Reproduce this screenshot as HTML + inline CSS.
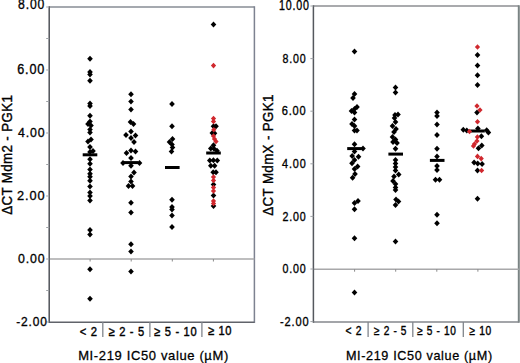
<!DOCTYPE html>
<html><head><meta charset="utf-8"><style>
html,body{margin:0;padding:0;background:#fff;}
svg{display:block;}
text{font-family:"Liberation Sans",sans-serif;fill:#000;}
</style></head><body>
<svg width="520" height="363" viewBox="0 0 520 363">
<rect width="520" height="363" fill="#fff"/>
<line x1="49.2" y1="7" x2="254.4" y2="7" stroke="#878d95" stroke-width="1.5"/><line x1="254.4" y1="6.3" x2="254.4" y2="322.9" stroke="#7d8290" stroke-width="1.5"/><line x1="49.2" y1="322.2" x2="254.4" y2="322.2" stroke="#60636a" stroke-width="1.5"/><line x1="49.2" y1="259" x2="254.4" y2="259" stroke="#a8a8aa" stroke-width="1.5"/><line x1="49.2" y1="6.3" x2="49.2" y2="322.9" stroke="#505359" stroke-width="1.5"/><line x1="46.2" y1="7.0" x2="49.2" y2="7.0" stroke="#9ea2a6" stroke-width="1"/><line x1="46.2" y1="38.5" x2="49.2" y2="38.5" stroke="#9ea2a6" stroke-width="1"/><line x1="46.2" y1="70.0" x2="49.2" y2="70.0" stroke="#9ea2a6" stroke-width="1"/><line x1="46.2" y1="101.5" x2="49.2" y2="101.5" stroke="#9ea2a6" stroke-width="1"/><line x1="46.2" y1="133.0" x2="49.2" y2="133.0" stroke="#9ea2a6" stroke-width="1"/><line x1="46.2" y1="164.5" x2="49.2" y2="164.5" stroke="#9ea2a6" stroke-width="1"/><line x1="46.2" y1="196.0" x2="49.2" y2="196.0" stroke="#9ea2a6" stroke-width="1"/><line x1="46.2" y1="227.5" x2="49.2" y2="227.5" stroke="#9ea2a6" stroke-width="1"/><line x1="46.2" y1="259.0" x2="49.2" y2="259.0" stroke="#9ea2a6" stroke-width="1"/><line x1="46.2" y1="290.5" x2="49.2" y2="290.5" stroke="#9ea2a6" stroke-width="1"/><line x1="46.2" y1="322.0" x2="49.2" y2="322.0" stroke="#9ea2a6" stroke-width="1"/><line x1="313.4" y1="5.9" x2="518.8" y2="5.9" stroke="#8c8e92" stroke-width="1.5"/><line x1="518.8" y1="5.2" x2="518.8" y2="322.7" stroke="#7a8383" stroke-width="2"/><line x1="313.4" y1="322" x2="518.8" y2="322" stroke="#85878d" stroke-width="1.5"/><line x1="313.4" y1="269.2" x2="518.8" y2="269.2" stroke="#a8a8aa" stroke-width="1.5"/><line x1="313.4" y1="5.2" x2="313.4" y2="322.7" stroke="#55585e" stroke-width="1.5"/><line x1="310.4" y1="6.0" x2="313.4" y2="6.0" stroke="#9ea2a6" stroke-width="1"/><line x1="310.4" y1="58.6" x2="313.4" y2="58.6" stroke="#9ea2a6" stroke-width="1"/><line x1="310.4" y1="111.2" x2="313.4" y2="111.2" stroke="#9ea2a6" stroke-width="1"/><line x1="310.4" y1="163.8" x2="313.4" y2="163.8" stroke="#9ea2a6" stroke-width="1"/><line x1="310.4" y1="216.4" x2="313.4" y2="216.4" stroke="#9ea2a6" stroke-width="1"/><line x1="310.4" y1="269.0" x2="313.4" y2="269.0" stroke="#9ea2a6" stroke-width="1"/><line x1="310.4" y1="321.6" x2="313.4" y2="321.6" stroke="#9ea2a6" stroke-width="1"/><line x1="90.1" y1="259" x2="90.1" y2="261.5" stroke="#8a8a8a" stroke-width="1"/><line x1="131.2" y1="259" x2="131.2" y2="261.5" stroke="#8a8a8a" stroke-width="1"/><line x1="172.3" y1="259" x2="172.3" y2="261.5" stroke="#8a8a8a" stroke-width="1"/><line x1="213.4" y1="259" x2="213.4" y2="261.5" stroke="#8a8a8a" stroke-width="1"/><line x1="354.6" y1="269.2" x2="354.6" y2="271.7" stroke="#8a8a8a" stroke-width="1"/><line x1="395.7" y1="269.2" x2="395.7" y2="271.7" stroke="#8a8a8a" stroke-width="1"/><line x1="436.8" y1="269.2" x2="436.8" y2="271.7" stroke="#8a8a8a" stroke-width="1"/><line x1="477.9" y1="269.2" x2="477.9" y2="271.7" stroke="#8a8a8a" stroke-width="1"/><line x1="102.8" y1="322" x2="102.8" y2="337" stroke="#80858c" stroke-width="1.3"/><line x1="149.9" y1="322" x2="149.9" y2="337" stroke="#80858c" stroke-width="1.3"/><line x1="201.9" y1="322" x2="201.9" y2="337" stroke="#80858c" stroke-width="1.3"/><line x1="368.1" y1="322" x2="368.1" y2="337" stroke="#80858c" stroke-width="1.3"/><line x1="412.8" y1="322" x2="412.8" y2="337" stroke="#80858c" stroke-width="1.3"/><line x1="463.3" y1="322" x2="463.3" y2="337" stroke="#80858c" stroke-width="1.3"/>
<path d="M90.0 55.7L92.8 58.7L90.0 61.7L87.2 58.7Z" fill="#000"/><path d="M90.0 69.0L92.8 72.0L90.0 75.0L87.2 72.0Z" fill="#000"/><path d="M90.0 71.5L92.8 74.5L90.0 77.5L87.2 74.5Z" fill="#000"/><path d="M90.0 77.7L92.8 80.7L90.0 83.7L87.2 80.7Z" fill="#000"/><path d="M90.0 100.5L92.8 103.5L90.0 106.5L87.2 103.5Z" fill="#000"/><path d="M90.0 103.0L92.8 106.0L90.0 109.0L87.2 106.0Z" fill="#000"/><path d="M90.0 112.7L92.8 115.7L90.0 118.7L87.2 115.7Z" fill="#000"/><path d="M90.0 118.5L92.8 121.5L90.0 124.5L87.2 121.5Z" fill="#000"/><path d="M88.0 121.0L90.8 124.0L88.0 127.0L85.2 124.0Z" fill="#000"/><path d="M91.0 122.5L93.8 125.5L91.0 128.5L88.2 125.5Z" fill="#000"/><path d="M90.0 126.5L92.8 129.5L90.0 132.5L87.2 129.5Z" fill="#000"/><path d="M90.0 129.5L92.8 132.5L90.0 135.5L87.2 132.5Z" fill="#000"/><path d="M91.0 136.5L93.8 139.5L91.0 142.5L88.2 139.5Z" fill="#000"/><path d="M88.0 138.5L90.8 141.5L88.0 144.5L85.2 141.5Z" fill="#000"/><path d="M90.0 144.0L92.8 147.0L90.0 150.0L87.2 147.0Z" fill="#000"/><path d="M93.0 148.0L95.8 151.0L93.0 154.0L90.2 151.0Z" fill="#000"/><path d="M90.0 149.0L92.8 152.0L90.0 155.0L87.2 152.0Z" fill="#000"/><path d="M90.0 156.2L92.8 159.2L90.0 162.2L87.2 159.2Z" fill="#000"/><path d="M90.0 160.7L92.8 163.7L90.0 166.7L87.2 163.7Z" fill="#000"/><path d="M90.0 166.5L92.8 169.5L90.0 172.5L87.2 169.5Z" fill="#000"/><path d="M90.0 170.8L92.8 173.8L90.0 176.8L87.2 173.8Z" fill="#000"/><path d="M90.0 173.8L92.8 176.8L90.0 179.8L87.2 176.8Z" fill="#000"/><path d="M90.0 177.8L92.8 180.8L90.0 183.8L87.2 180.8Z" fill="#000"/><path d="M90.0 183.6L92.8 186.6L90.0 189.6L87.2 186.6Z" fill="#000"/><path d="M90.0 189.4L92.8 192.4L90.0 195.4L87.2 192.4Z" fill="#000"/><path d="M90.0 193.1L92.8 196.1L90.0 199.1L87.2 196.1Z" fill="#000"/><path d="M90.0 197.6L92.8 200.6L90.0 203.6L87.2 200.6Z" fill="#000"/><path d="M90.0 227.0L92.8 230.0L90.0 233.0L87.2 230.0Z" fill="#000"/><path d="M90.0 231.5L92.8 234.5L90.0 237.5L87.2 234.5Z" fill="#000"/><path d="M90.0 266.3L92.8 269.3L90.0 272.3L87.2 269.3Z" fill="#000"/><path d="M90.0 295.8L92.8 298.8L90.0 301.8L87.2 298.8Z" fill="#000"/><path d="M131.0 91.2L133.8 94.2L131.0 97.2L128.2 94.2Z" fill="#000"/><path d="M131.0 98.5L133.8 101.5L131.0 104.5L128.2 101.5Z" fill="#000"/><path d="M131.0 106.4L133.8 109.4L131.0 112.4L128.2 109.4Z" fill="#000"/><path d="M130.5 119.0L133.3 122.0L130.5 125.0L127.7 122.0Z" fill="#000"/><path d="M133.5 121.0L136.3 124.0L133.5 127.0L130.7 124.0Z" fill="#000"/><path d="M131.0 128.5L133.8 131.5L131.0 134.5L128.2 131.5Z" fill="#000"/><path d="M126.0 132.0L128.8 135.0L126.0 138.0L123.2 135.0Z" fill="#000"/><path d="M135.5 132.5L138.3 135.5L135.5 138.5L132.7 135.5Z" fill="#000"/><path d="M131.0 135.0L133.8 138.0L131.0 141.0L128.2 138.0Z" fill="#000"/><path d="M134.0 139.0L136.8 142.0L134.0 145.0L131.2 142.0Z" fill="#000"/><path d="M126.5 150.0L129.3 153.0L126.5 156.0L123.7 153.0Z" fill="#000"/><path d="M131.0 147.5L133.8 150.5L131.0 153.5L128.2 150.5Z" fill="#000"/><path d="M135.5 148.5L138.3 151.5L135.5 154.5L132.7 151.5Z" fill="#000"/><path d="M131.0 155.0L133.8 158.0L131.0 161.0L128.2 158.0Z" fill="#000"/><path d="M123.0 160.0L125.8 163.0L123.0 166.0L120.2 163.0Z" fill="#000"/><path d="M139.5 160.0L142.3 163.0L139.5 166.0L136.7 163.0Z" fill="#000"/><path d="M131.0 162.8L133.8 165.8L131.0 168.8L128.2 165.8Z" fill="#000"/><path d="M134.0 169.5L136.8 172.5L134.0 175.5L131.2 172.5Z" fill="#000"/><path d="M131.0 173.5L133.8 176.5L131.0 179.5L128.2 176.5Z" fill="#000"/><path d="M131.0 178.5L133.8 181.5L131.0 184.5L128.2 181.5Z" fill="#000"/><path d="M128.5 183.0L131.3 186.0L128.5 189.0L125.7 186.0Z" fill="#000"/><path d="M132.5 183.0L135.3 186.0L132.5 189.0L129.7 186.0Z" fill="#000"/><path d="M131.0 199.8L133.8 202.8L131.0 205.8L128.2 202.8Z" fill="#000"/><path d="M131.0 209.4L133.8 212.4L131.0 215.4L128.2 212.4Z" fill="#000"/><path d="M131.0 241.2L133.8 244.2L131.0 247.2L128.2 244.2Z" fill="#000"/><path d="M131.0 248.4L133.8 251.4L131.0 254.4L128.2 251.4Z" fill="#000"/><path d="M131.0 268.5L133.8 271.5L131.0 274.5L128.2 271.5Z" fill="#000"/><path d="M172.0 101.1L174.8 104.1L172.0 107.1L169.2 104.1Z" fill="#000"/><path d="M172.0 123.2L174.8 126.2L172.0 129.2L169.2 126.2Z" fill="#000"/><path d="M172.5 136.0L175.3 139.0L172.5 142.0L169.7 139.0Z" fill="#000"/><path d="M169.5 139.0L172.3 142.0L169.5 145.0L166.7 142.0Z" fill="#000"/><path d="M172.0 141.5L174.8 144.5L172.0 147.5L169.2 144.5Z" fill="#000"/><path d="M172.5 144.5L175.3 147.5L172.5 150.5L169.7 147.5Z" fill="#000"/><path d="M171.5 148.5L174.3 151.5L171.5 154.5L168.7 151.5Z" fill="#000"/><path d="M172.0 196.7L174.8 199.7L172.0 202.7L169.2 199.7Z" fill="#000"/><path d="M172.0 204.0L174.8 207.0L172.0 210.0L169.2 207.0Z" fill="#000"/><path d="M172.0 206.5L174.8 209.5L172.0 212.5L169.2 209.5Z" fill="#000"/><path d="M172.0 212.4L174.8 215.4L172.0 218.4L169.2 215.4Z" fill="#000"/><path d="M172.0 223.9L174.8 226.9L172.0 229.9L169.2 226.9Z" fill="#000"/><path d="M213.5 21.4L216.3 24.4L213.5 27.4L210.7 24.4Z" fill="#000"/><path d="M213.5 123.2L216.3 126.2L213.5 129.2L210.7 126.2Z" fill="#000"/><path d="M216.0 123.2L218.8 126.2L216.0 129.2L213.2 126.2Z" fill="#000"/><path d="M212.3 130.0L215.1 133.0L212.3 136.0L209.5 133.0Z" fill="#000"/><path d="M214.5 130.3L217.3 133.3L214.5 136.3L211.7 133.3Z" fill="#000"/><path d="M213.5 142.2L216.3 145.2L213.5 148.2L210.7 145.2Z" fill="#000"/><path d="M210.8 145.5L213.6 148.5L210.8 151.5L208.0 148.5Z" fill="#000"/><path d="M214.0 145.8L216.8 148.8L214.0 151.8L211.2 148.8Z" fill="#000"/><path d="M217.0 147.8L219.8 150.8L217.0 153.8L214.2 150.8Z" fill="#000"/><path d="M209.8 157.5L212.6 160.5L209.8 163.5L207.0 160.5Z" fill="#000"/><path d="M213.4 157.3L216.2 160.3L213.4 163.3L210.6 160.3Z" fill="#000"/><path d="M217.3 157.5L220.1 160.5L217.3 163.5L214.5 160.5Z" fill="#000"/><path d="M210.8 162.8L213.6 165.8L210.8 168.8L208.0 165.8Z" fill="#000"/><path d="M214.6 162.8L217.4 165.8L214.6 168.8L211.8 165.8Z" fill="#000"/><path d="M213.2 169.2L216.0 172.2L213.2 175.2L210.4 172.2Z" fill="#000"/><path d="M216.0 169.2L218.8 172.2L216.0 175.2L213.2 172.2Z" fill="#000"/><path d="M213.5 181.5L216.3 184.5L213.5 187.5L210.7 184.5Z" fill="#000"/><path d="M213.5 192.5L216.3 195.5L213.5 198.5L210.7 195.5Z" fill="#000"/><path d="M213.5 203.0L216.3 206.0L213.5 209.0L210.7 206.0Z" fill="#000"/><path d="M354.5 48.6L357.3 51.6L354.5 54.6L351.7 51.6Z" fill="#000"/><path d="M354.5 91.0L357.3 94.0L354.5 97.0L351.7 94.0Z" fill="#000"/><path d="M353.0 95.0L355.8 98.0L353.0 101.0L350.2 98.0Z" fill="#000"/><path d="M357.0 104.0L359.8 107.0L357.0 110.0L354.2 107.0Z" fill="#000"/><path d="M354.5 106.0L357.3 109.0L354.5 112.0L351.7 109.0Z" fill="#000"/><path d="M351.5 108.0L354.3 111.0L351.5 114.0L348.7 111.0Z" fill="#000"/><path d="M354.5 109.5L357.3 112.5L354.5 115.5L351.7 112.5Z" fill="#000"/><path d="M354.5 116.5L357.3 119.5L354.5 122.5L351.7 119.5Z" fill="#000"/><path d="M352.0 121.0L354.8 124.0L352.0 127.0L349.2 124.0Z" fill="#000"/><path d="M354.5 123.0L357.3 126.0L354.5 129.0L351.7 126.0Z" fill="#000"/><path d="M354.5 127.5L357.3 130.5L354.5 133.5L351.7 130.5Z" fill="#000"/><path d="M357.0 127.5L359.8 130.5L357.0 133.5L354.2 130.5Z" fill="#000"/><path d="M354.5 141.3L357.3 144.3L354.5 147.3L351.7 144.3Z" fill="#000"/><path d="M363.0 145.6L365.8 148.6L363.0 151.6L360.2 148.6Z" fill="#000"/><path d="M354.5 148.5L357.3 151.5L354.5 154.5L351.7 151.5Z" fill="#000"/><path d="M352.2 153.0L355.0 156.0L352.2 159.0L349.4 156.0Z" fill="#000"/><path d="M358.5 153.8L361.3 156.8L358.5 159.8L355.7 156.8Z" fill="#000"/><path d="M354.5 157.0L357.3 160.0L354.5 163.0L351.7 160.0Z" fill="#000"/><path d="M352.0 160.2L354.8 163.2L352.0 166.2L349.2 163.2Z" fill="#000"/><path d="M357.6 163.4L360.4 166.4L357.6 169.4L354.8 166.4Z" fill="#000"/><path d="M354.5 166.1L357.3 169.1L354.5 172.1L351.7 169.1Z" fill="#000"/><path d="M355.0 171.0L357.8 174.0L355.0 177.0L352.2 174.0Z" fill="#000"/><path d="M352.6 174.7L355.4 177.7L352.6 180.7L349.8 177.7Z" fill="#000"/><path d="M354.5 200.0L357.3 203.0L354.5 206.0L351.7 203.0Z" fill="#000"/><path d="M358.0 198.0L360.8 201.0L358.0 204.0L355.2 201.0Z" fill="#000"/><path d="M354.5 206.3L357.3 209.3L354.5 212.3L351.7 209.3Z" fill="#000"/><path d="M354.5 235.3L357.3 238.3L354.5 241.3L351.7 238.3Z" fill="#000"/><path d="M354.5 289.5L357.3 292.5L354.5 295.5L351.7 292.5Z" fill="#000"/><path d="M395.5 84.5L398.3 87.5L395.5 90.5L392.7 87.5Z" fill="#000"/><path d="M395.5 89.5L398.3 92.5L395.5 95.5L392.7 92.5Z" fill="#000"/><path d="M395.0 112.0L397.8 115.0L395.0 118.0L392.2 115.0Z" fill="#000"/><path d="M398.0 111.5L400.8 114.5L398.0 117.5L395.2 114.5Z" fill="#000"/><path d="M394.5 115.0L397.3 118.0L394.5 121.0L391.7 118.0Z" fill="#000"/><path d="M395.5 119.0L398.3 122.0L395.5 125.0L392.7 122.0Z" fill="#000"/><path d="M392.5 123.0L395.3 126.0L392.5 129.0L389.7 126.0Z" fill="#000"/><path d="M396.0 126.0L398.8 129.0L396.0 132.0L393.2 129.0Z" fill="#000"/><path d="M394.0 129.0L396.8 132.0L394.0 135.0L391.2 132.0Z" fill="#000"/><path d="M392.5 134.0L395.3 137.0L392.5 140.0L389.7 137.0Z" fill="#000"/><path d="M395.5 136.5L398.3 139.5L395.5 142.5L392.7 139.5Z" fill="#000"/><path d="M393.0 139.0L395.8 142.0L393.0 145.0L390.2 142.0Z" fill="#000"/><path d="M397.0 140.0L399.8 143.0L397.0 146.0L394.2 143.0Z" fill="#000"/><path d="M395.5 145.8L398.3 148.8L395.5 151.8L392.7 148.8Z" fill="#000"/><path d="M395.5 157.0L398.3 160.0L395.5 163.0L392.7 160.0Z" fill="#000"/><path d="M395.5 160.5L398.3 163.5L395.5 166.5L392.7 163.5Z" fill="#000"/><path d="M395.5 164.0L398.3 167.0L395.5 170.0L392.7 167.0Z" fill="#000"/><path d="M395.5 167.5L398.3 170.5L395.5 173.5L392.7 170.5Z" fill="#000"/><path d="M398.7 171.4L401.5 174.4L398.7 177.4L395.9 174.4Z" fill="#000"/><path d="M394.0 173.5L396.8 176.5L394.0 179.5L391.2 176.5Z" fill="#000"/><path d="M393.0 178.0L395.8 181.0L393.0 184.0L390.2 181.0Z" fill="#000"/><path d="M395.5 181.0L398.3 184.0L395.5 187.0L392.7 184.0Z" fill="#000"/><path d="M395.5 184.5L398.3 187.5L395.5 190.5L392.7 187.5Z" fill="#000"/><path d="M395.5 187.0L398.3 190.0L395.5 193.0L392.7 190.0Z" fill="#000"/><path d="M396.0 196.5L398.8 199.5L396.0 202.5L393.2 199.5Z" fill="#000"/><path d="M398.5 198.5L401.3 201.5L398.5 204.5L395.7 201.5Z" fill="#000"/><path d="M395.5 202.0L398.3 205.0L395.5 208.0L392.7 205.0Z" fill="#000"/><path d="M395.5 238.6L398.3 241.6L395.5 244.6L392.7 241.6Z" fill="#000"/><path d="M437.0 109.5L439.8 112.5L437.0 115.5L434.2 112.5Z" fill="#000"/><path d="M437.0 113.0L439.8 116.0L437.0 119.0L434.2 116.0Z" fill="#000"/><path d="M437.0 121.6L439.8 124.6L437.0 127.6L434.2 124.6Z" fill="#000"/><path d="M437.0 132.0L439.8 135.0L437.0 138.0L434.2 135.0Z" fill="#000"/><path d="M437.0 145.8L439.8 148.8L437.0 151.8L434.2 148.8Z" fill="#000"/><path d="M437.0 153.5L439.8 156.5L437.0 159.5L434.2 156.5Z" fill="#000"/><path d="M437.0 163.0L439.8 166.0L437.0 169.0L434.2 166.0Z" fill="#000"/><path d="M437.0 167.0L439.8 170.0L437.0 173.0L434.2 170.0Z" fill="#000"/><path d="M435.5 176.7L438.3 179.7L435.5 182.7L432.7 179.7Z" fill="#000"/><path d="M439.5 176.7L442.3 179.7L439.5 182.7L436.7 179.7Z" fill="#000"/><path d="M437.0 211.8L439.8 214.8L437.0 217.8L434.2 214.8Z" fill="#000"/><path d="M437.0 220.3L439.8 223.3L437.0 226.3L434.2 223.3Z" fill="#000"/><path d="M477.5 52.1L480.3 55.1L477.5 58.1L474.7 55.1Z" fill="#000"/><path d="M477.5 62.4L480.3 65.4L477.5 68.4L474.7 65.4Z" fill="#000"/><path d="M477.5 72.3L480.3 75.3L477.5 78.3L474.7 75.3Z" fill="#000"/><path d="M477.5 81.9L480.3 84.9L477.5 87.9L474.7 84.9Z" fill="#000"/><path d="M477.0 109.5L479.8 112.5L477.0 115.5L474.2 112.5Z" fill="#000"/><path d="M477.9 125.4L480.7 128.4L477.9 131.4L475.1 128.4Z" fill="#000"/><path d="M463.3 126.7L466.1 129.7L463.3 132.7L460.5 129.7Z" fill="#000"/><path d="M466.8 127.6L469.6 130.6L466.8 133.6L464.0 130.6Z" fill="#000"/><path d="M486.7 127.2L489.5 130.2L486.7 133.2L483.9 130.2Z" fill="#000"/><path d="M488.4 129.6L491.2 132.6L488.4 135.6L485.6 132.6Z" fill="#000"/><path d="M481.4 133.3L484.2 136.3L481.4 139.3L478.6 136.3Z" fill="#000"/><path d="M481.8 142.6L484.6 145.6L481.8 148.6L479.0 145.6Z" fill="#000"/><path d="M478.5 145.3L481.3 148.3L478.5 151.3L475.7 148.3Z" fill="#000"/><path d="M474.1 159.6L476.9 162.6L474.1 165.6L471.3 162.6Z" fill="#000"/><path d="M477.7 160.5L480.5 163.5L477.7 166.5L474.9 163.5Z" fill="#000"/><path d="M482.1 161.0L484.9 164.0L482.1 167.0L479.3 164.0Z" fill="#000"/><path d="M477.5 167.5L480.3 170.5L477.5 173.5L474.7 170.5Z" fill="#000"/><path d="M477.5 195.7L480.3 198.7L477.5 201.7L474.7 198.7Z" fill="#000"/><rect x="82.7" y="153.3" width="14.6" height="3" fill="#000"/><rect x="123.7" y="161.1" width="14.6" height="3" fill="#000"/><rect x="165.0" y="166.0" width="14.6" height="3" fill="#000"/><rect x="206.2" y="151.5" width="14.6" height="3" fill="#000"/><rect x="347.2" y="147.1" width="14.6" height="3" fill="#000"/><rect x="388.4" y="152.6" width="14.6" height="3" fill="#000"/><rect x="429.9" y="158.9" width="14.6" height="3" fill="#000"/><rect x="470.2" y="129.5" width="14.6" height="3" fill="#000"/><path d="M213.5 62.8L216.1 65.6L213.5 68.4L210.9 65.6Z" fill="#d0282e"/><path d="M213.5 115.7L216.1 118.5L213.5 121.3L210.9 118.5Z" fill="#d0282e"/><path d="M213.5 118.7L216.1 121.5L213.5 124.3L210.9 121.5Z" fill="#d0282e"/><path d="M213.8 127.0L216.4 129.8L213.8 132.6L211.2 129.8Z" fill="#d0282e"/><path d="M213.5 133.2L216.1 136.0L213.5 138.8L210.9 136.0Z" fill="#d0282e"/><path d="M214.5 136.2L217.1 139.0L214.5 141.8L211.9 139.0Z" fill="#d0282e"/><path d="M216.0 138.7L218.6 141.5L216.0 144.3L213.4 141.5Z" fill="#d0282e"/><path d="M213.5 174.2L216.1 177.0L213.5 179.8L210.9 177.0Z" fill="#d0282e"/><path d="M213.5 177.7L216.1 180.5L213.5 183.3L210.9 180.5Z" fill="#d0282e"/><path d="M213.5 184.7L216.1 187.5L213.5 190.3L210.9 187.5Z" fill="#d0282e"/><path d="M213.5 188.2L216.1 191.0L213.5 193.8L210.9 191.0Z" fill="#d0282e"/><path d="M213.5 198.2L216.1 201.0L213.5 203.8L210.9 201.0Z" fill="#d0282e"/><path d="M213.5 200.7L216.1 203.5L213.5 206.3L210.9 203.5Z" fill="#d0282e"/><path d="M477.5 44.2L480.1 47.0L477.5 49.8L474.9 47.0Z" fill="#d0282e"/><path d="M477.0 103.2L479.6 106.0L477.0 108.8L474.4 106.0Z" fill="#d0282e"/><path d="M480.0 107.2L482.6 110.0L480.0 112.8L477.4 110.0Z" fill="#d0282e"/><path d="M477.5 119.0L480.1 121.8L477.5 124.6L474.9 121.8Z" fill="#d0282e"/><path d="M469.5 128.7L472.1 131.5L469.5 134.3L466.9 131.5Z" fill="#d0282e"/><path d="M477.4 134.2L480.0 137.0L477.4 139.8L474.8 137.0Z" fill="#d0282e"/><path d="M477.0 138.2L479.6 141.0L477.0 143.8L474.4 141.0Z" fill="#d0282e"/><path d="M474.5 141.2L477.1 144.0L474.5 146.8L471.9 144.0Z" fill="#d0282e"/><path d="M473.5 143.2L476.1 146.0L473.5 148.8L470.9 146.0Z" fill="#d0282e"/><path d="M477.5 153.6L480.1 156.4L477.5 159.2L474.9 156.4Z" fill="#d0282e"/><path d="M481.2 155.8L483.8 158.6L481.2 161.4L478.6 158.6Z" fill="#d0282e"/><path d="M481.6 167.7L484.2 170.5L481.6 173.3L479.0 170.5Z" fill="#d0282e"/>

<g transform="translate(18.10,-0.50) scale(0.8700,1.0000) translate(-10.00,-20.00)"><text x="10" y="30" font-size="14" font-weight="normal" stroke="#000" stroke-width="0.35" letter-spacing="1.0">8.00</text></g><g transform="translate(18.10,64.20) scale(0.9000,1.0000) translate(-11.00,-60.00)"><text x="10" y="70" font-size="14" font-weight="normal" stroke="#000" stroke-width="0.35" letter-spacing="1.0">6.00</text></g><g transform="translate(18.00,127.80) scale(0.8800,0.9500) translate(-10.00,-100.00)"><text x="10" y="110" font-size="14" font-weight="normal" stroke="#000" stroke-width="0.35" letter-spacing="1.0">4.00</text></g><g transform="translate(18.00,190.80) scale(0.9103,0.9000) translate(-11.00,-140.00)"><text x="10" y="150" font-size="14" font-weight="normal" stroke="#000" stroke-width="0.35" letter-spacing="1.0">2.00</text></g><g transform="translate(18.00,253.50) scale(0.8800,0.9600) translate(-10.00,-180.00)"><text x="10" y="190" font-size="14" font-weight="normal" stroke="#000" stroke-width="0.35" letter-spacing="1.0">0.00</text></g><g transform="translate(16.20,316.50) scale(0.8543,0.9500) translate(-10.00,-220.00)"><text x="10" y="230" font-size="14" font-weight="normal" stroke="#000" stroke-width="0.35" letter-spacing="1.0">-2.00</text></g><g transform="translate(279.80,0.70) scale(0.8200,1.0778) translate(-11.00,-261.00)"><text x="10" y="270" font-size="13" font-weight="normal" stroke="#000" stroke-width="0.35" letter-spacing="1.0">10.00</text></g><g transform="translate(282.50,53.90) scale(0.8214,1.0111) translate(-10.00,-301.00)"><text x="10" y="310" font-size="13" font-weight="normal" stroke="#000" stroke-width="0.35" letter-spacing="1.0">8.00</text></g><g transform="translate(282.50,106.30) scale(0.8519,1.0111) translate(-11.00,-341.00)"><text x="10" y="350" font-size="13" font-weight="normal" stroke="#000" stroke-width="0.35" letter-spacing="1.0">6.00</text></g><g transform="translate(282.10,159.30) scale(0.8357,0.9667) translate(-10.00,-381.00)"><text x="10" y="390" font-size="13" font-weight="normal" stroke="#000" stroke-width="0.35" letter-spacing="1.0">4.00</text></g><g transform="translate(282.50,211.80) scale(0.8214,1.0000) translate(-10.00,-421.00)"><text x="10" y="430" font-size="13" font-weight="normal" stroke="#000" stroke-width="0.35" letter-spacing="1.0">2.00</text></g><g transform="translate(282.50,263.80) scale(0.8214,1.0000) translate(-10.00,-461.00)"><text x="10" y="470" font-size="13" font-weight="normal" stroke="#000" stroke-width="0.35" letter-spacing="1.0">0.00</text></g><g transform="translate(280.00,316.80) scale(0.8485,1.0000) translate(-10.00,-501.00)"><text x="10" y="510" font-size="13" font-weight="normal" stroke="#000" stroke-width="0.35" letter-spacing="1.0">-2.00</text></g><g transform="translate(79.70,326.40) scale(0.9000,1.0222) translate(-10.00,-541.00)"><text x="10" y="550" font-size="12.5" font-weight="normal" stroke="#000" stroke-width="0.4" letter-spacing="0.8">&lt; 2</text></g><g transform="translate(108.50,326.20) scale(0.8925,1.0444) translate(-10.00,-581.00)"><text x="10" y="590" font-size="12.5" font-weight="normal" stroke="#000" stroke-width="0.4" letter-spacing="0.8">≥ 2 - 5</text></g><g transform="translate(154.10,326.20) scale(0.8896,1.0444) translate(-10.00,-621.00)"><text x="10" y="630" font-size="12.5" font-weight="normal" stroke="#000" stroke-width="0.4" letter-spacing="0.8">≥ 5 - 10</text></g><g transform="translate(207.90,326.10) scale(0.8889,1.0444) translate(-10.00,-661.00)"><text x="10" y="670" font-size="12.5" font-weight="normal" stroke="#000" stroke-width="0.4" letter-spacing="0.8">≥ 10</text></g><g transform="translate(345.50,326.60) scale(0.8263,0.9889) translate(-10.00,-701.00)"><text x="10" y="710" font-size="12.5" font-weight="normal" stroke="#000" stroke-width="0.4" letter-spacing="0.8">&lt; 2</text></g><g transform="translate(374.00,326.50) scale(0.8100,1.0000) translate(-10.00,-741.00)"><text x="10" y="750" font-size="12.5" font-weight="normal" stroke="#000" stroke-width="0.4" letter-spacing="0.8">≥ 2 - 5</text></g><g transform="translate(417.20,326.50) scale(0.8083,1.0000) translate(-10.00,-781.00)"><text x="10" y="790" font-size="12.5" font-weight="normal" stroke="#000" stroke-width="0.4" letter-spacing="0.8">≥ 5 - 10</text></g><g transform="translate(469.50,326.50) scale(0.8185,1.0000) translate(-10.00,-821.00)"><text x="10" y="830" font-size="12.5" font-weight="normal" stroke="#000" stroke-width="0.4" letter-spacing="0.8">≥ 10</text></g><g transform="translate(79.10,349.90) scale(0.9275,0.9700) translate(-11.00,-860.00)"><text x="10" y="870" font-size="14" font-weight="normal" stroke="#000" stroke-width="0.3" letter-spacing="0.7">MI-219 IC50 value (µM)</text></g><g transform="translate(346.80,349.90) scale(0.9031,0.9700) translate(-11.00,-900.00)"><text x="10" y="910" font-size="14" font-weight="normal" stroke="#000" stroke-width="0.3" letter-spacing="0.7">MI-219 IC50 value (µM)</text></g><g transform="translate(-0.30,96.00) scale(1.0909,0.9504) translate(-589.00,-15.00)"><text transform="translate(600,140) rotate(-90)" font-size="14" font-weight="normal" stroke="#000" stroke-width="0.35" letter-spacing="0.4">ΔCT Mdm2 - PGK1</text></g><g transform="translate(261.50,94.90) scale(1.0273,0.9512) translate(-629.00,-13.00)"><text transform="translate(640,140) rotate(-90)" font-size="14" font-weight="normal" stroke="#000" stroke-width="0.35" letter-spacing="0.4">ΔCT MdmX - PGK1</text></g>
</svg>
</body></html>
